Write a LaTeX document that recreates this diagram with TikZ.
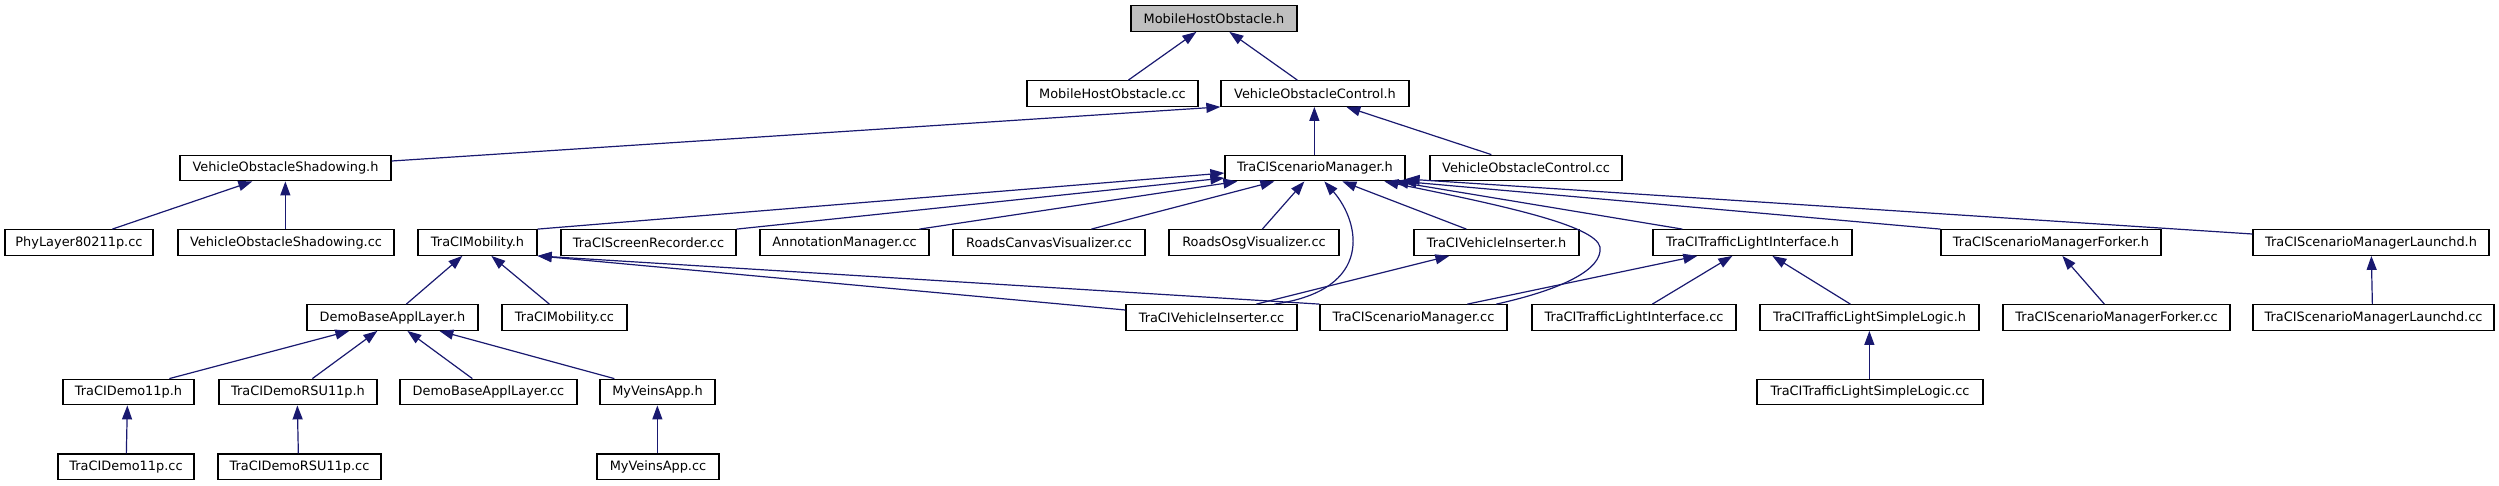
\documentclass[tikz,border=0pt]{standalone}
\usepackage{fontspec}
\setmainfont{DejaVu Sans}
\usetikzlibrary{arrows.meta,calc}
\definecolor{edgec}{HTML}{191970}
\definecolor{fillg}{HTML}{BFBFBF}
\begin{document}
\begin{tikzpicture}[x=1pt,y=-1pt,
  box/.style={draw=black,line width=1.3pt,fill=white,minimum height=25.5pt,inner sep=0pt,font=\fontsize{12.9}{15}\selectfont},
  edge/.style={draw=edgec,line width=1.2pt,-{Triangle[length=14pt,width=10pt]}}]
\useasboundingbox (0,0) rectangle (2499,485);
% row 0
\node[box,fill=fillg,minimum width=166pt] (mhoh) at (1214,18.5) {MobileHostObstacle.h};
% row 1
\node[box,minimum width=171pt] (mhocc) at (1112.5,93.5) {MobileHostObstacle.cc};
\node[box,minimum width=188pt] (voch) at (1315,93.5) {VehicleObstacleControl.h};
% row 2
\node[box,minimum width=211pt] (vosh) at (285.5,168) {VehicleObstacleShadowing.h};
\node[box,minimum width=180pt] (tsmh) at (1315,168) {TraCIScenarioManager.h};
\node[box,minimum width=192pt] (voccc) at (1526,168) {VehicleObstacleControl.cc};
% row 3
\node[box,minimum width=148pt] (phy) at (79,242.5) {PhyLayer80211p.cc};
\node[box,minimum width=216pt] (voscc) at (286,242.5) {VehicleObstacleShadowing.cc};
\node[box,minimum width=119pt] (tmh) at (477.5,242.5) {TraCIMobility.h};
\node[box,minimum width=175pt] (tsr) at (648.5,242.5) {TraCIScreenRecorder.cc};
\node[box,minimum width=169pt] (am) at (844.5,242.5) {AnnotationManager.cc};
\node[box,minimum width=192pt] (rcv) at (1049,242.5) {RoadsCanvasVisualizer.cc};
\node[box,minimum width=170pt] (rosg) at (1254,242.5) {RoadsOsgVisualizer.cc};
\node[box,minimum width=165pt] (tvih) at (1496.5,242.5) {TraCIVehicleInserter.h};
\node[box,minimum width=199pt] (ttlih) at (1752.5,242.5) {TraCITrafficLightInterface.h};
\node[box,minimum width=220pt] (tsmfh) at (2051,242.5) {TraCIScenarioManagerForker.h};
\node[box,minimum width=236pt] (tsmlh) at (2371,242.5) {TraCIScenarioManagerLaunchd.h};
% row 4
\node[box,minimum width=171pt] (dbalh) at (392.5,317.5) {DemoBaseApplLayer.h};
\node[box,minimum width=125pt] (tmcc) at (564.5,317.5) {TraCIMobility.cc};
\node[box,minimum width=171pt] (tvicc) at (1211.5,317.5) {TraCIVehicleInserter.cc};
\node[box,minimum width=187pt] (tsmcc) at (1413.5,317.5) {TraCIScenarioManager.cc};
\node[box,minimum width=204pt] (ttlicc) at (1634,317.5) {TraCITrafficLightInterface.cc};
\node[box,minimum width=219pt] (ttlslh) at (1869.5,317.5) {TraCITrafficLightSimpleLogic.h};
\node[box,minimum width=227pt] (tsmfcc) at (2116.5,317.5) {TraCIScenarioManagerForker.cc};
\node[box,minimum width=241pt] (tsmlcc) at (2373.5,317.5) {TraCIScenarioManagerLaunchd.cc};
% row 5
\node[box,minimum width=131pt] (demoh) at (128.5,392) {TraCIDemo11p.h};
\node[box,minimum width=158pt] (rsuh) at (298,392) {TraCIDemoRSU11p.h};
\node[box,minimum width=177pt] (dbalcc) at (488.5,392) {DemoBaseApplLayer.cc};
\node[box,minimum width=115pt] (mvah) at (657.5,392) {MyVeinsApp.h};
\node[box,minimum width=226pt] (ttlslcc) at (1870,392) {TraCITrafficLightSimpleLogic.cc};
% row 6
\node[box,minimum width=136pt] (democc) at (126,466.7) {TraCIDemo11p.cc};
\node[box,minimum width=163pt] (rsucc) at (299.5,466.7) {TraCIDemoRSU11p.cc};
\node[box,minimum width=122pt] (mvacc) at (658,466.7) {MyVeinsApp.cc};

% edges
\draw[edge] ([xshift=102pt]mhocc.north west) -- ([xshift=66pt]mhoh.south west);
\draw[edge] ([xshift=77pt]voch.north west) -- ([xshift=99pt]mhoh.south west);
\draw[edge] ([yshift=7pt]vosh.east) -- (voch.south west);
\draw[edge] ([xshift=90pt]tsmh.north west) -- ([xshift=94pt]voch.south west);
\draw[edge] ([xshift=62pt]voccc.north west) -- ([xshift=126pt]voch.south west);
\draw[edge] ([xshift=108pt]phy.north west) -- ([xshift=73pt]vosh.south west);
\draw[edge] ([xshift=108pt]voscc.north west) -- ([xshift=106pt]vosh.south west);
\draw[edge] (tmh.north east) -- ([yshift=-5pt]tsmh.west);
\draw[edge] (tsr.north east) -- ([yshift=-10pt]tsmh.west);
\draw[edge] ([xshift=160pt]am.north west) -- ([xshift=13pt]tsmh.south west);
\draw[edge] ([xshift=139pt]rcv.north west) -- ([xshift=50pt]tsmh.south west);
\draw[edge] ([xshift=94pt]rosg.north west) -- ([xshift=80pt]tsmh.south west);
\draw[edge] ([xshift=149pt]tvicc.north west) .. controls (1375,290) and (1360,222) .. ([xshift=100pt]tsmh.south west);
\draw[edge] ([xshift=53pt]tvih.north west) -- ([xshift=118pt]tsmh.south west);
\draw[edge] ([xshift=177pt]tsmcc.north west) .. controls (1560,290) and (1603,270) .. (1600,247) .. controls (1595,225) and (1500,205) .. ([xshift=160pt]tsmh.south west);
\draw[edge] ([xshift=30pt]ttlih.north west) -- ([xshift=170pt]tsmh.south west);
\draw[edge] (tsmfh.north west) -- ([xshift=178pt]tsmh.south west);
\draw[edge] ([yshift=8.5pt]tsmlh.west) -- ([yshift=-11pt]tsmh.east);
\draw[edge] ([xshift=100pt]dbalh.north west) -- ([xshift=45pt]tmh.south west);
\draw[edge] ([xshift=48pt]tmcc.north west) -- ([xshift=74pt]tmh.south west);
\draw[edge] ([yshift=7.5pt]tvicc.west) -- (tmh.south east);
\draw[edge] (tsmcc.north west) -- (tmh.south east);
\draw[edge] ([xshift=131pt]tvicc.north west) -- ([xshift=36pt]tvih.south west);
\draw[edge] ([xshift=148pt]tsmcc.north west) -- ([xshift=45pt]ttlih.south west);
\draw[edge] ([xshift=121pt]ttlicc.north west) -- ([xshift=80pt]ttlih.south west);
\draw[edge] ([xshift=91pt]ttlslh.north west) -- ([xshift=120pt]ttlih.south west);
\draw[edge] ([xshift=113pt]ttlslcc.north west) -- ([xshift=110pt]ttlslh.south west);
\draw[edge] ([xshift=102pt]tsmfcc.north west) -- ([xshift=122pt]tsmfh.south west);
\draw[edge] ([xshift=120pt]tsmlcc.north west) -- ([xshift=119pt]tsmlh.south west);
\draw[edge] ([xshift=107pt]demoh.north west) -- ([xshift=43pt]dbalh.south west);
\draw[edge] ([xshift=94pt]rsuh.north west) -- ([xshift=71pt]dbalh.south west);
\draw[edge] ([xshift=73pt]dbalcc.north west) -- ([xshift=101pt]dbalh.south west);
\draw[edge] ([xshift=15pt]mvah.north west) -- ([xshift=133pt]dbalh.south west);
\draw[edge] ([xshift=69pt]democc.north west) -- ([xshift=65pt]demoh.south west);
\draw[edge] ([xshift=81pt]rsucc.north west) -- ([xshift=79pt]rsuh.south west);
\draw[edge] ([xshift=61pt]mvacc.north west) -- ([xshift=58pt]mvah.south west);
\end{tikzpicture}
\end{document}
